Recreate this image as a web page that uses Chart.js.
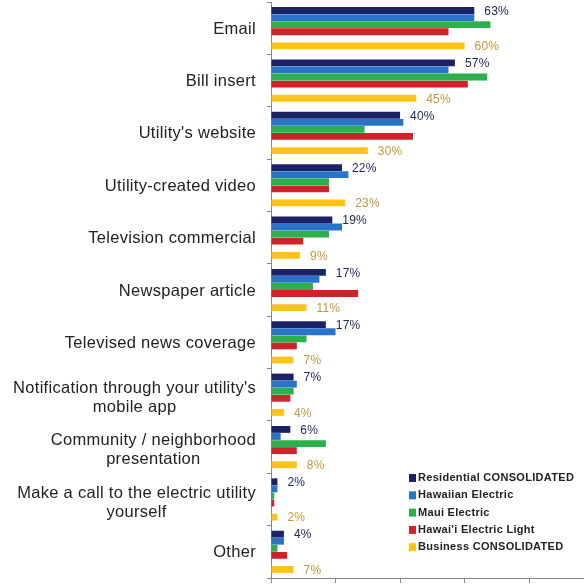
<!DOCTYPE html>
<html>
<head>
<meta charset="utf-8">
<script src="https://cdn.jsdelivr.net/npm/chart.js@4"></script>
<style>
  html, body { margin: 0; padding: 0; background: #fff; }
  #wrap { width: 584px; height: 586px; }
</style>
</head>
<body>
<div id="wrap"><canvas id="myChart" width="584" height="586"></canvas></div>
<script>
// categories (multi-line labels are arrays of lines)
const categories = [
    'Email',
    'Bill insert',
    "Utility's website",
    'Utility-created video',
    'Television commercial',
    'Newspaper article',
    'Televised news coverage',
    ["Notification through your utility's", 'mobile app'],
    ['Community / neighborhood', 'presentation'],
    ['Make a call to the electric utility', 'yourself'],
    'Other'
]

// percent of respondents, per group
const residential = [63, 57, 40, 22, 19, 17, 17, 7, 6, 2, 4]
const hawaiianElectric = [63, 55, 41, 24, 22, 15, 20, 8, 3, 2, 4]
const mauiElectric = [68, 67, 29, 18, 18, 13, 11, 7, 17, 1, 2]
const hawaiiElectricLight = [55, 61, 44, 18, 10, 27, 8, 6, 8, 1, 5]
const business = [60, 45, 30, 23, 9, 11, 7, 4, 8, 2, 7]
const spacer = categories.map(() => null)

const xTicks = [0, 20, 40, 60, 80]

const ctx = document.getElementById('myChart').getContext('2d')

// category labels: block right-aligned, lines centred on each other
const categoryLabels = {
    id: 'categoryLabels',
    afterDraw(chart) {
        const y = chart.scales.y
        const c = chart.ctx
        const right = chart.chartArea.left - 15
        c.save()
        c.font = '16.5px "Liberation Sans", Arial, sans-serif'
        c.letterSpacing = '0.3px'
        c.fillStyle = '#222'
        c.textAlign = 'center'
        c.textBaseline = 'middle'
        categories.forEach((label, i) => {
            const lines = Array.isArray(label) ? label : [label]
            const w = Math.max(...lines.map(l => c.measureText(l).width))
            const cx = right - w / 2
            const lh = 19
            const top = y.getPixelForValue(i) + 1 - (lines.length - 1) * lh / 2 + (lines.length - 1) * 2
            lines.forEach((l, j) => c.fillText(l, cx, top + j * lh))
        })
        c.restore()
    }
}

// value labels next to residential and business bars
const valueLabels = {
    id: 'valueLabels',
    afterDatasetsDraw(chart) {
        const c = chart.ctx
        c.save()
        c.font = '12px "Liberation Sans", Arial, sans-serif'
        c.letterSpacing = '0.2px'
        c.textAlign = 'left'
        c.textBaseline = 'middle'
        chart.data.datasets.forEach((ds, di) => {
            if (!ds.labelColor) return
            c.fillStyle = ds.labelColor
            chart.getDatasetMeta(di).data.forEach((bar, i) => {
                c.fillText(ds.data[i] + '%', bar.x + 10, bar.y + 1)
            })
        })
        c.restore()
    }
}

// legend box in the lower right corner
const cornerLegend = {
    id: 'cornerLegend',
    afterDraw(chart, args, opts) {
        const c = chart.ctx
        c.save()
        c.font = 'bold 11px "Liberation Sans", Arial, sans-serif'
        c.letterSpacing = '0.3px'
        c.textAlign = 'left'
        c.textBaseline = 'middle'
        let row = 0
        chart.data.datasets.forEach(ds => {
            if (!ds.label) return
            const y = opts.y + row * opts.rowHeight
            c.fillStyle = ds.backgroundColor
            c.fillRect(opts.x, y - 4, 7, 8)
            c.fillStyle = '#222'
            c.fillText(ds.label, opts.x + 9, y)
            row++
        })
        c.restore()
    }
}

const chart = new Chart(ctx, {
    type: 'bar',
    data: {
        labels: categories,
        datasets: [
            { label: 'Residential CONSOLIDATED', data: residential, backgroundColor: '#1c2266', labelColor: '#232a58' },
            { label: 'Hawaiian Electric', data: hawaiianElectric, backgroundColor: '#2a74c8' },
            { label: 'Maui Electric', data: mauiElectric, backgroundColor: '#2bb04c' },
            { label: "Hawai'i Electric Light", data: hawaiiElectricLight, backgroundColor: '#cf2229' },
            { label: '', data: spacer, backgroundColor: 'rgba(0,0,0,0)' },
            { label: 'Business CONSOLIDATED', data: business, backgroundColor: '#fdc318', labelColor: '#c5973a' }
        ]
    },
    options: {
        indexAxis: 'y',
        responsive: false,
        animation: false,
        layout: { padding: { left: 267, top: 2, right: 0, bottom: 3 } },
        datasets: {
            bar: { categoryPercentage: 0.81, barPercentage: 0.97, borderWidth: 0 }
        },
        scales: {
            x: {
                min: 0,
                max: 97,
                afterBuildTicks: scale => { scale.ticks = xTicks.map(v => ({ value: v })) },
                ticks: { display: false },
                grid: { drawOnChartArea: false, drawTicks: true, tickLength: 5, color: '#888' },
                border: { color: '#888' }
            },
            y: {
                ticks: { display: false },
                grid: { drawOnChartArea: false, drawTicks: true, tickLength: 4, color: '#888' },
                border: { color: '#888' }
            }
        },
        plugins: {
            legend: { display: false },
            tooltip: { enabled: false },
            cornerLegend: { x: 409, y: 478, rowHeight: 17.3 }
        }
    },
    plugins: [categoryLabels, valueLabels, cornerLegend]
})
</script>
</body>
</html>
